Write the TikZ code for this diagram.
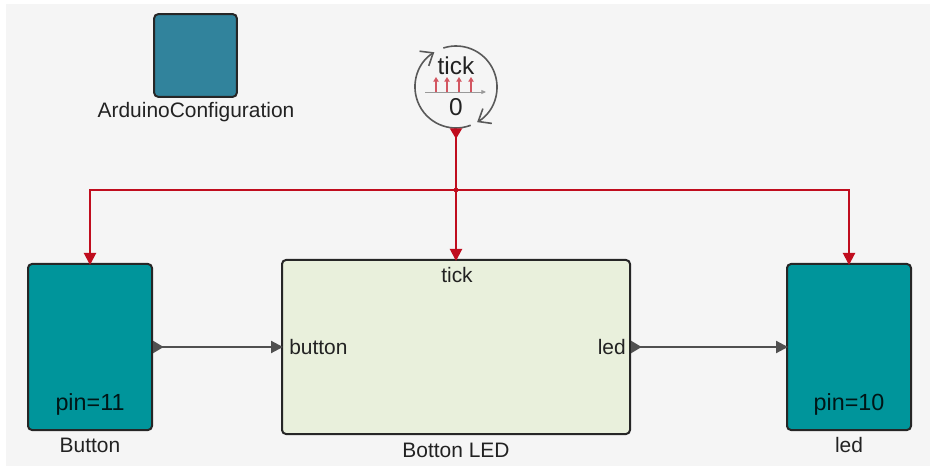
\documentclass[tikz,border=0pt]{standalone}
\usepackage{fontspec}
\setmainfont{Liberation Sans}
\usetikzlibrary{arrows.meta}
\definecolor{canvasColor}{HTML}{F5F5F5}
\definecolor{arduinoColor}{HTML}{31839C}
\definecolor{pinColor}{HTML}{00959B}
\definecolor{controllerColor}{HTML}{E9F0DC}
\definecolor{eventColor}{HTML}{C00D1E}
\definecolor{wireColor}{HTML}{505050}
\definecolor{labelColor}{HTML}{222222}
\tikzstyle{diagram} = [x = .75pt, y = -.75pt]
\tikzstyle{blockStyle} = [draw=black!85, line width=1.5pt, rounded corners = 3pt, inner sep=0pt]
\tikzstyle{blockText} = [font=\fontsize{15.7}{16}\selectfont, text=labelColor, inner sep=0pt]
\tikzstyle{pinText} = [font=\fontsize{17.5}{18}\selectfont, text=black!85!pinColor, inner sep=0pt]
\tikzstyle{clockText} = [font=\fontsize{18.3}{18}\selectfont, text=labelColor, inner sep=0pt]
\tikzstyle{eventWire} = [color=eventColor, line width=1.5pt, shorten >=-1.5pt, {Triangle[reversed, length=8pt, width=9pt]}-{Triangle[length=9pt, width=9pt]}]
\tikzstyle{eventBranch} = [color=eventColor, line width=1.5pt, shorten >=-1.5pt, -{Triangle[length=9pt, width=9pt]}]
\tikzstyle{dataWire} = [color=wireColor, line width=1.6pt, shorten >=-1.5pt, {Triangle[reversed, length=8pt, width=9pt]}-{Triangle[length=9pt, width=9pt]}]
\tikzstyle{clockArc} = [color=black!65, line width=1.2pt, -{Straight Barb[length=8pt, width=13pt]}]
\tikzstyle{tickArrow} = [color=eventColor!70, line width=.9pt, -{Triangle[length=3.5pt, width=4pt]}]
\newcommand{\pinBlock}[4]{\node [blockStyle, fill=pinColor, minimum width=93pt, minimum height=124.5pt] (#1) at (#2, 347) {};
  \node [pinText] (#1Pin) at (#2, 404.5) {#3};
  \node [blockText] (#1Name) at (#2, 445.5) {#4};}
\begin{document}
\begin{tikzpicture}[diagram]
  \useasboundingbox (0,0) rectangle (930,466);
  \fill [canvasColor] (6,4) rectangle (930,466);
  % blocks
  \node [blockStyle, fill=arduinoColor, minimum width=62pt, minimum height=62pt] (arduino) at (195.5, 55.5) {};
  \node [blockText] (arduinoName) at (196, 112.5) {ArduinoConfiguration};
  \pinBlock{button}{90}{pin=11}{Button}
  \pinBlock{led}{849}{pin=10}{led}
  \node [blockStyle, fill=controllerColor, minimum width=261pt, minimum height=130.5pt] (controller) at (456, 347) {};
  \node [blockText] (controllerName) at (456, 450) {Botton LED};
  \node [blockText] (tickPort) at (457, 275) {tick};
  \node [blockText, anchor=west] (buttonPort) at (289, 347) {button};
  \node [blockText, anchor=east] (ledPort) at (626, 347) {led};
  % clock
  \node [circle, minimum size=61.5pt, inner sep=0pt] (clock) at (456, 87) {};
  \draw [clockArc] (clock.center) ++(-69:41 and -41) arc [start angle=69, end angle=238, radius=41];
  \draw [clockArc] (clock.center) ++(108:41 and -41) arc [start angle=-108, end angle=59, radius=41];
  \node [clockText] (clockName) at (456, 66) {tick};
  \node [clockText] (clockValue) at (456, 107) {0};
  \draw [color=black!40, line width=.7pt, -{Triangle[length=3.5pt, width=3pt]}] (425, 92) -- (486, 92);
  \foreach \tickX in {436,447,459,471} {
    \draw [tickArrow] (\tickX, 92) -- (\tickX, 77);
  }
  % wires
  \coordinate (eventJoint) at (456, 190);
  \draw [eventWire] (clock.south) -- (controller.north);
  \draw [eventBranch] (eventJoint) -| (button.north);
  \draw [eventBranch] (eventJoint) -| (led.north);
  \fill [eventColor] (eventJoint) circle (2.4);
  \draw [dataWire] (button.east) -- (controller.west);
  \draw [dataWire] (controller.east) -- (led.west);
\end{tikzpicture}
\end{document}
